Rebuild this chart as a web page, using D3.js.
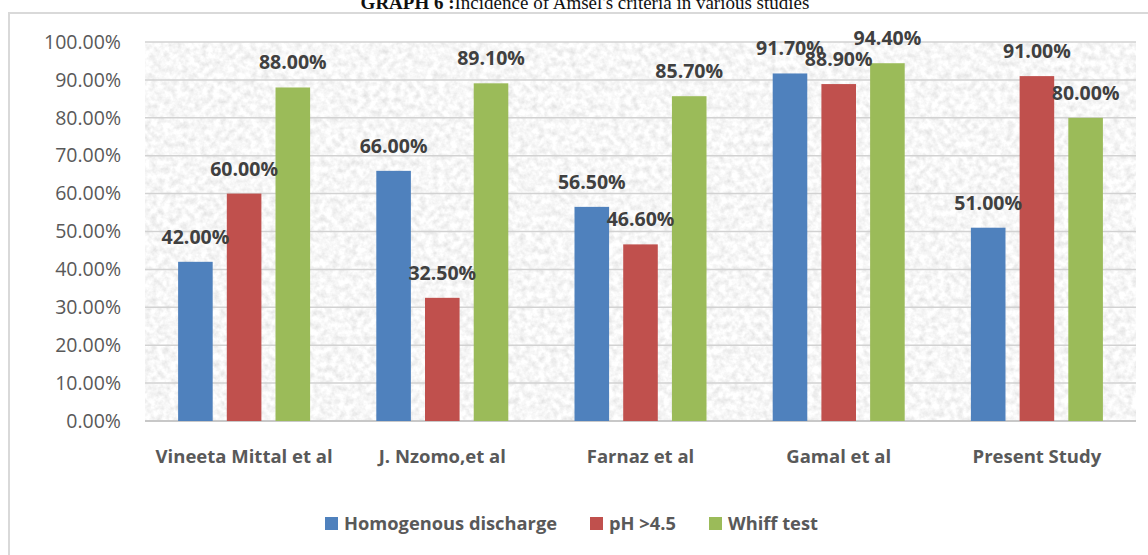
<!DOCTYPE html>
<html>
<head>
<meta charset="utf-8">
<script src="https://cdn.jsdelivr.net/npm/d3@7"></script>
<style>
  body { margin: 0; background: #fff; }
  svg { display: block; }
</style>
</head>
<body>
<svg id="chart" width="1148" height="555"></svg>
<script>
const studies = ["Vineeta Mittal et al", "J. Nzomo,et al", "Farnaz et al", "Gamal et al", "Present Study"];
const seriesNames = ["Homogenous discharge", "pH >4.5", "Whiff test"];
const homogenous = [42.0, 66.0, 56.5, 91.7, 51.0];
const ph = [60.0, 32.5, 46.6, 88.9, 91.0];
const whiff = [88.0, 89.1, 85.7, 94.4, 80.0];
const yTicks = [0, 10, 20, 30, 40, 50, 60, 70, 80, 90, 100];
const colors = ["#4f81bd", "#c0504d", "#9bbb59"];

const allSeries = [homogenous, ph, whiff];
const font = "'Open Sans', Lato, sans-serif";

const svg = d3.select("#chart");
const margin = { left: 145, right: 12, top: 42, bottom: 134 };
const W = 1148, H = 555;
const plotW = W - margin.left - margin.right;
const plotH = H - margin.top - margin.bottom;

// frame of the chart object
svg.append("path")
  .attr("d", "M9,560 L9,13 L1150,13")
  .attr("fill", "none")
  .attr("stroke", "#d9d9d9")
  .attr("stroke-width", 2);

// title, clipped by the top of the picture
svg.append("text")
  .attr("x", 585)
  .attr("y", 9)
  .attr("text-anchor", "middle")
  .attr("font-family", "'Liberation Serif', 'Times New Roman', serif")
  .attr("font-size", 19)
  .attr("fill", "#111")
  .html("<tspan font-weight='bold'>GRAPH 6 :</tspan>Incidence of Amsel's criteria in various studies");

// noise texture for the plot area
const defs = svg.append("defs");
const f = defs.append("filter").attr("id", "paper")
  .attr("x", 0).attr("y", 0).attr("width", 1).attr("height", 1);
f.append("feTurbulence")
  .attr("type", "fractalNoise")
  .attr("baseFrequency", 0.16)
  .attr("numOctaves", 3)
  .attr("seed", 7)
  .attr("result", "noise");
f.append("feColorMatrix")
  .attr("in", "noise")
  .attr("type", "matrix")
  .attr("values", "0.42 0 0 0 0.72  0.42 0 0 0 0.72  0.42 0 0 0 0.72  0 0 0 0 1");

const g = svg.append("g").attr("transform", `translate(${margin.left},${margin.top})`);

g.append("rect")
  .attr("width", plotW)
  .attr("height", plotH)
  .attr("fill", "#ececec")
  .attr("filter", "url(#paper)");

const x0 = d3.scaleBand().domain(studies).range([0, plotW]);
const x1 = d3.scaleBand().domain(seriesNames).range([x0.bandwidth() / 2 - 66, x0.bandwidth() / 2 + 66]).paddingInner(0.29);
const y = d3.scaleLinear().domain([0, 100]).range([plotH, 0]);

// gridlines
g.append("g")
  .selectAll("line")
  .data(yTicks)
  .join("line")
  .attr("x1", 0).attr("x2", plotW)
  .attr("y1", d => y(d)).attr("y2", d => y(d))
  .attr("stroke", d => d === 0 ? "#c8c8c8" : "#d2d2d2")
  .attr("stroke-width", d => d === 0 ? 2 : 1.5);

// y axis labels
const yAxis = g.append("g")
  .call(d3.axisLeft(y).tickValues(yTicks).tickSize(0).tickPadding(24).tickFormat(d => d.toFixed(2) + "%"));
yAxis.select(".domain").remove();
yAxis.selectAll("text")
  .attr("font-family", font)
  .attr("font-size", 19.5)
  .attr("fill", "#595959");

// x axis labels
const xAxis = g.append("g")
  .attr("transform", `translate(0,${plotH})`)
  .call(d3.axisBottom(x0).tickSize(0).tickPadding(29));
xAxis.select(".domain").remove();
xAxis.selectAll("text")
  .attr("font-family", font)
  .attr("font-size", 18.5)
  .attr("font-weight", "bold")
  .attr("fill", "#595959");

// bars
const rows = [];
studies.forEach((s, i) => {
  seriesNames.forEach((n, j) => rows.push({ study: s, series: n, value: allSeries[j][i], color: colors[j] }));
});

g.append("g")
  .selectAll("rect")
  .data(rows)
  .join("rect")
  .attr("x", d => x0(d.study) + x1(d.series))
  .attr("width", x1.bandwidth())
  .attr("y", d => y(d.value))
  .attr("height", d => y(0) - y(d.value))
  .attr("fill", d => d.color);

// data labels
g.append("g")
  .selectAll("text")
  .data(rows)
  .join("text")
  .attr("x", d => x0(d.study) + x1(d.series) + x1.bandwidth() / 2)
  .attr("y", d => y(d.value) - 18)
  .attr("text-anchor", "middle")
  .attr("font-family", font)
  .attr("font-size", 19.5)
  .attr("font-weight", "bold")
  .attr("fill", "#404040")
  .text(d => d.value.toFixed(2) + "%");

// legend
const legendX = [325, 590, 709];
const legend = svg.append("g").attr("transform", "translate(0,524)");
seriesNames.forEach((n, j) => {
  const item = legend.append("g").attr("transform", `translate(${legendX[j]},0)`);
  item.append("rect").attr("x", 0).attr("y", -7).attr("width", 13).attr("height", 13).attr("fill", colors[j]);
  item.append("text")
    .attr("x", 19).attr("y", 0).attr("dy", "0.35em")
    .attr("font-family", font)
    .attr("font-size", 18.3)
    .attr("font-weight", "bold")
    .attr("fill", "#595959")
    .text(n);
});
</script>
</body>
</html>
